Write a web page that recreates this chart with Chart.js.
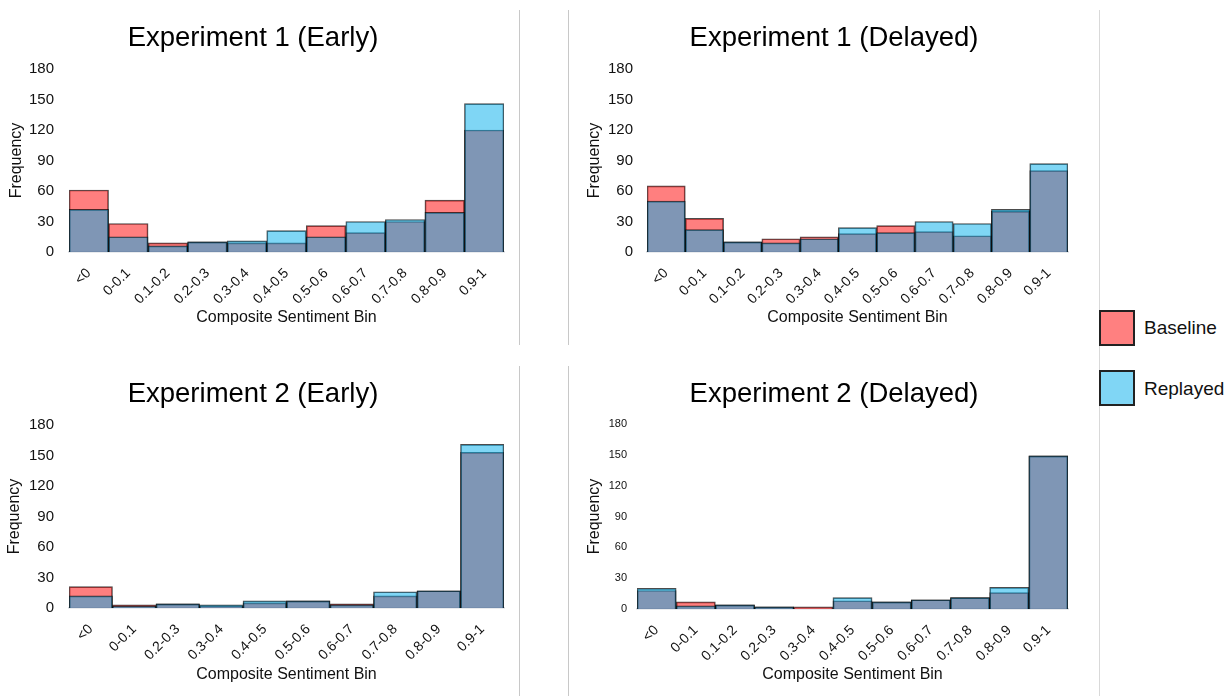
<!DOCTYPE html>
<html>
<head>
<meta charset="utf-8">
<script src="https://cdn.jsdelivr.net/npm/chart.js@4.4.1/dist/chart.umd.min.js"></script>
<style>
  body { margin: 0; background: #fff; }
  #wrap { position: relative; width: 1231px; height: 696px; overflow: hidden; font-family: Arial, "Liberation Sans", sans-serif; }
  canvas { position: absolute; }
  .sep { position: absolute; width: 1px; background: #c8c8c8; }
  .swatch { position: absolute; left: 1099px; width: 32px; height: 32px; border: 2px solid #222; }
  .legtext { position: absolute; left: 1144px; font-size: 19px; color: #111; line-height: 22px; }
</style>
</head>
<body>
<div id="wrap">
  <canvas id="chartExp1Early" width="519" height="335" style="left:0px; top:10px"></canvas>
  <canvas id="chartExp1Delayed" width="531" height="335" style="left:568px; top:10px"></canvas>
  <canvas id="chartExp2Early" width="519" height="330" style="left:0px; top:366px"></canvas>
  <canvas id="chartExp2Delayed" width="531" height="330" style="left:568px; top:366px"></canvas>

  <div class="sep" style="left:519px; top:10px; height:335px"></div>
  <div class="sep" style="left:568px; top:10px; height:335px"></div>
  <div class="sep" style="left:519px; top:366px; height:330px"></div>
  <div class="sep" style="left:568px; top:366px; height:330px"></div>
  <div class="sep" style="left:1099px; top:10px; height:686px; background:#d9d9d9"></div>

  <div class="swatch" style="top:310px; background:#ff8080"></div>
  <div class="legtext" style="top:317px">Baseline</div>
  <div class="swatch" style="top:370px; background:#80d6f5"></div>
  <div class="legtext" style="top:378px">Replayed</div>
</div>

<script>
// bins
const binsExp1 = ["<0", "0-0.1", "0.1-0.2", "0.2-0.3", "0.3-0.4", "0.4-0.5", "0.5-0.6", "0.6-0.7", "0.7-0.8", "0.8-0.9", "0.9-1"];
const binsExp2Early = ["<0", "0-0.1", "0.2-0.3", "0.3-0.4", "0.4-0.5", "0.5-0.6", "0.6-0.7", "0.7-0.8", "0.8-0.9", "0.9-1"];
const binsExp2Delayed = ["<0", "0-0.1", "0.1-0.2", "0.2-0.3", "0.3-0.4", "0.4-0.5", "0.5-0.6", "0.6-0.7", "0.7-0.8", "0.8-0.9", "0.9-1"];

// frequencies
const exp1EarlyBaseline = [61, 28, 9, 10, 9, 9, 26, 19, 30, 51, 120];
const exp1EarlyReplayed = [42, 15, 6, 10, 11, 21, 15, 30, 32, 39, 146];

const exp1DelayedBaseline = [65, 33, 10, 13, 15, 18, 26, 20, 16, 40, 80];
const exp1DelayedReplayed = [50, 22, 10, 9, 13, 24, 19, 30, 28, 42, 87];

const exp2EarlyBaseline = [21, 3, 4, 2, 5, 7, 4, 12, 17, 153];
const exp2EarlyReplayed = [12, 2, 4, 3, 7, 7, 3, 16, 17, 161];

const exp2DelayedBaseline = [18, 7, 4, 2, 2, 8, 7, 9, 11, 16, 149];
const exp2DelayedReplayed = [20, 3, 4, 2, 0, 11, 7, 9, 11, 21, 149];

const yTicks = [0, 30, 60, 90, 120, 150, 180];

Chart.defaults.font.family = 'Arial, "Liberation Sans", sans-serif';
Chart.defaults.color = "#111";

function makePanel(id, title, labels, baseline, replayed, lay) {
  return new Chart(document.getElementById(id), {
    type: "bar",
    data: {
      labels: labels,
      datasets: [
        {
          label: "Baseline",
          data: baseline,
          order: 1,
          backgroundColor: "rgba(255, 0, 0, 0.5)",
          borderColor: "rgba(0, 0, 0, 0.7)",
          borderWidth: 1,
        },
        {
          label: "Replayed",
          data: replayed,
          order: 0,
          backgroundColor: "rgba(0, 173, 235, 0.5)",
          borderColor: "rgba(0, 0, 0, 0.7)",
          borderWidth: 1,
        },
      ],
    },
    options: {
      responsive: false,
      animation: false,
      events: [],
      datasets: {
        bar: { grouped: false, categoryPercentage: 1, barPercentage: 1 },
      },
      layout: {
        padding: { left: lay.padLeft, right: lay.padRight, top: 0, bottom: 0 },
      },
      scales: {
        x: {
          grid: { display: false, drawTicks: false },
          border: { display: true, color: "#d4d8de", width: 1.5 },
          ticks: {
            autoSkip: false,
            minRotation: 45,
            maxRotation: 45,
            padding: 13,
            font: { size: 14 },
          },
          title: {
            display: true,
            text: "Composite Sentiment Bin",
            font: { size: 16 },
            padding: { top: 0, bottom: lay.xTitlePad },
          },
          afterFit: (scale) => { scale.height = lay.xHeight; },
        },
        y: {
          min: 0,
          max: 180,
          grid: { display: false, drawTicks: false },
          border: { display: false },
          afterBuildTicks: (scale) => { scale.ticks = yTicks.map((v) => ({ value: v })); },
          ticks: {
            padding: lay.yTickPad,
            font: { size: lay.yTickSize },
          },
          title: {
            display: true,
            text: "Frequency",
            font: { size: 16 },
            padding: { top: lay.yTitlePad, bottom: 0 },
          },
          afterFit: (scale) => { scale.width = lay.yWidth; },
        },
      },
      plugins: {
        legend: { display: false },
        tooltip: { enabled: false },
        title: {
          display: true,
          text: title,
          color: "#000",
          font: { size: 27.5, weight: "normal" },
          padding: { top: lay.titleTop, bottom: lay.titleBottom },
        },
      },
    },
  });
}

const chart1 = makePanel("chartExp1Early", "Experiment 1 (Early)", binsExp1, exp1EarlyBaseline, exp1EarlyReplayed, {
  padLeft: 2, padRight: 15, yWidth: 67, yTitlePad: 4.9, yTickPad: 15, yTickSize: 15,
  xHeight: 93, xTitlePad: 17.4, titleTop: 11.5, titleBottom: 14.5,
});

const chart2 = makePanel("chartExp1Delayed", "Experiment 1 (Delayed)", binsExp1, exp1DelayedBaseline, exp1DelayedReplayed, {
  padLeft: 32, padRight: 31, yWidth: 47, yTitlePad: -14.6, yTickPad: 14, yTickSize: 15,
  xHeight: 93, xTitlePad: 17.4, titleTop: 11.5, titleBottom: 14.5,
});

const chart3 = makePanel("chartExp2Early", "Experiment 2 (Early)", binsExp2Early, exp2EarlyBaseline, exp2EarlyReplayed, {
  padLeft: 2, padRight: 15, yWidth: 67, yTitlePad: 3.4, yTickPad: 15, yTickSize: 15,
  xHeight: 88, xTitlePad: 11.4, titleTop: 11.5, titleBottom: 14.5,
});

const chart4 = makePanel("chartExp2Delayed", "Experiment 2 (Delayed)", binsExp2Delayed, exp2DelayedBaseline, exp2DelayedReplayed, {
  padLeft: 32, padRight: 31, yWidth: 37, yTitlePad: -14.6, yTickPad: 10, yTickSize: 11,
  xHeight: 87, xTitlePad: 11.4, titleTop: 11.5, titleBottom: 13.5,
});
</script>
</body>
</html>
